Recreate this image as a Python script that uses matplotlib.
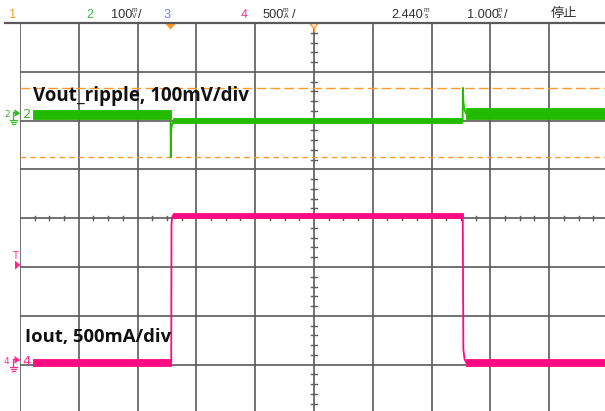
import matplotlib
matplotlib.use('Agg')
import matplotlib.pyplot as plt
from matplotlib.lines import Line2D
from matplotlib.patches import Polygon
from matplotlib.transforms import IdentityTransform

W, H = 605, 411

# ---------------- scope settings ----------------
time_per_div = 1.0      # ms/div
delay = 2.440           # ms (centre of screen relative to trigger)
ch2_scale = 100         # mV/div
ch4_scale = 500         # mA/div
ch2_offset_div = 2.15   # ground position of channel 2 (divisions from centre)
ch4_offset_div = -2.906 # ground position of channel 4
trig_level = 973        # mA

header_labels = ["1", "2", "100", "3", "4", "500", "2.440", "1.000", "停止"]

# ---------------- channel 2 : Vout ripple (mV) ----------------
ch2_band_t0 = [-2.34, 0.05, 5.02]
ch2_band_t1 = [0.0, 4.965, 7.44]
ch2_band_lo = [-11, -20, -11]
ch2_band_hi = [7, -10, 11]
ch2_edge_t = [[-0.01, 0.0, 0.004, 0.008, 0.02, 0.04, 0.06],
              [4.962, 4.968, 4.972, 4.98, 4.995, 5.02]]
ch2_edge_v = [[-2, -2, -90, -40, -26, -20, -15],
              [-15, -15, 52, 25, 10, 0]]
ch2_cursors = [52, -90]

# ---------------- channel 4 : Iout (mA) ----------------
ch4_band_t0 = [-2.34, 0.04, 5.03]
ch4_band_t1 = [0.0, 4.967, 7.44]
ch4_band_lo = [-59, 1452, -59]
ch4_band_hi = [7, 1506, 7]
ch4_edge_t = [[0.0, 0.012, 0.016, 0.025, 0.04],
              [4.965, 4.97, 4.98, 5.0, 5.03]]
ch4_edge_v = [[-26, -20, 1380, 1455, 1480],
              [1480, 1460, 110, 10, -26]]

GREEN = '#22bb00'
PINK = '#ff0a82'
ORANGE = '#ff9a2a'
GRID = '#5a5a5a'

fig = plt.figure(figsize=(W / 100, H / 100), dpi=100)
fig.patch.set_facecolor('white')

# axes rectangle in pixels (screen grid)
gx0, gx1 = 20.0, 608.0
gy0, gy1 = 23.0, 413.4
rect = [gx0 / W, (H - gy1) / H, (gx1 - gx0) / W, (gy1 - gy0) / H]

base = fig.add_axes(rect)
base.set_xlim(0, 10)
base.set_ylim(-4, 4)
base.axis('off')
for k in range(0, 11):
    base.axvline(k, color=GRID, lw=1.2, zorder=1)
for k in range(-4, 5):
    base.axhline(k, color=GRID, lw=1.2, zorder=1)
# minor ticks on centre lines
for k in range(40):
    if k % 4:
        base.plot([k / 4, k / 4], [-0.045, 0.045], color=GRID, lw=1.0, zorder=1)
for k in range(-20, 21):
    if k % 5:
        base.plot([4.95, 5.05], [k / 5, k / 5], color=GRID, lw=1.0, zorder=1)

xlim = (delay - 5 * time_per_div, delay + 5 * time_per_div)

ax2 = fig.add_axes(rect)
ax2.set_xlim(*xlim)
ax2.set_ylim((-4 - ch2_offset_div) * ch2_scale, (4 - ch2_offset_div) * ch2_scale)
ax2.axis('off')
ax2.patch.set_alpha(0)

ax4 = fig.add_axes(rect)
ax4.set_xlim(*xlim)
ax4.set_ylim((-4 - ch4_offset_div) * ch4_scale, (4 - ch4_offset_div) * ch4_scale)
ax4.axis('off')
ax4.patch.set_alpha(0)

# cursors
ax2.axhline(ch2_cursors[0], color=ORANGE, lw=1.0, ls=(0, (7, 3)), zorder=2)
ax2.axhline(ch2_cursors[1], color=ORANGE, lw=1.0, ls=(0, (4, 3)), zorder=2)

# traces
for t0, t1, lo, hi in zip(ch2_band_t0, ch2_band_t1, ch2_band_lo, ch2_band_hi):
    ax2.fill_between([t0, t1], [lo, lo], [hi, hi], color=GREEN, lw=0.6, zorder=3)
for tt, vv in zip(ch2_edge_t, ch2_edge_v):
    ax2.plot(tt, vv, color=GREEN, lw=1.3, zorder=3)
for t0, t1, lo, hi in zip(ch4_band_t0, ch4_band_t1, ch4_band_lo, ch4_band_hi):
    ax4.fill_between([t0, t1], [lo, lo], [hi, hi], color=PINK, lw=0.6, zorder=3)
for tt, vv in zip(ch4_edge_t, ch4_edge_v):
    ax4.plot(tt, vv, color=PINK, lw=1.3, zorder=3)

# ---------------- helpers in pixel coordinates (top-left origin) ----------------
ID = IdentityTransform()


def ptext(x, y, s, **kw):
    fig.text(x / W, 1 - y / H, s, va='baseline', ha='left', **kw)


def pline(xs, ys, **kw):
    fig.add_artist(Line2D(xs, [H - y for y in ys], transform=ID, **kw))


def ppoly(pts, **kw):
    fig.add_artist(Polygon([(x, H - y) for x, y in pts], closed=True, transform=ID, **kw))


def ypx(ax, v):
    return H - ax.transData.transform((0, v))[1]


def xpx(ax, t):
    return ax.transData.transform((t, 0))[0]


# header bar
pline([5, W], [gy0, gy0], color=GRID, lw=1.6)
hdr_font = ['Liberation Sans', 'DejaVu Sans']
hs = 9.2
us = 4.8
hy = 17.5
uy1, uy2 = 11.5, 17.5
dark = '#333333'
ptext(9.5, hy, header_labels[0], color='#f5a030', fontsize=hs, family=hdr_font)
ptext(86, hy, header_labels[1], color='#3fb83f', fontsize=hs, family=hdr_font)
ptext(110.5, hy, header_labels[2], color=dark, fontsize=hs, family=hdr_font)
ptext(131.5, uy1, 'm', color=dark, fontsize=us, family=hdr_font)
ptext(132, uy2, 'V', color=dark, fontsize=us, family=hdr_font)
ptext(138.5, hy, '/', color=dark, fontsize=hs, family=hdr_font)
ptext(163.5, hy, header_labels[3], color='#6f80ff', fontsize=hs, family=hdr_font)
ptext(241, hy, header_labels[4], color='#ff3399', fontsize=hs, family=hdr_font)
ptext(262.5, hy, header_labels[5], color=dark, fontsize=hs, family=hdr_font)
ptext(283, uy1, 'm', color=dark, fontsize=us, family=hdr_font)
ptext(283.5, uy2, 'A', color=dark, fontsize=us, family=hdr_font)
ptext(291.5, hy, '/', color=dark, fontsize=hs, family=hdr_font)
ptext(391.5, hy, header_labels[6], color=dark, fontsize=hs, family=hdr_font)
ptext(423.5, uy1, 'm', color=dark, fontsize=us, family=hdr_font)
ptext(424.5, uy2, 's', color=dark, fontsize=us, family=hdr_font)
ptext(466.5, hy, header_labels[7], color=dark, fontsize=hs, family=hdr_font)
ptext(497, uy1, 'm', color=dark, fontsize=us, family=hdr_font)
ptext(498, uy2, 's', color=dark, fontsize=us, family=hdr_font)
ptext(504.5, hy, '/', color=dark, fontsize=hs, family=hdr_font)
ptext(551, hy, header_labels[8], color=dark, fontsize=9.5,
      family=['Noto Sans CJK JP', 'DejaVu Sans'])

# trigger position marker (filled) and time reference marker
xt = xpx(ax2, 0.0)
ppoly([(xt - 5, 24), (xt + 5, 24), (xt, 29.5)], color=ORANGE, lw=0)
xc = xpx(ax2, delay)
ppoly([(xc - 4, 23.5), (xc + 4, 23.5), (xc, 28.5)], facecolor='white', edgecolor=ORANGE, lw=1.0)
pline([xc, xc], [28, 31], color=ORANGE, lw=1.0)


def ch_marker(y, num, color):
    ptext(4, y + 3.5, num, color=color, fontsize=6.5)
    pline([13, 13], [y - 1, y + 7], color=color, lw=0.9)
    pline([9.5, 16.5], [y + 7, y + 7], color=color, lw=0.9)
    pline([10.5, 15.5], [y + 9, y + 9], color=color, lw=0.9)
    pline([11.5, 14.5], [y + 11, y + 11], color=color, lw=0.9)
    pline([13, 15], [y - 1, y - 1], color=color, lw=0.9)
    ppoly([(14.5, y - 4), (14.5, y + 3.5), (20.5, y)], color=color, lw=0)
    ptext(22.5, y + 4.5, num, color=color, fontsize=9.5)


ch_marker(ypx(ax2, 0), '2', '#33bb22')
ch_marker(ypx(ax4, 0), '4', '#ff2a90')

# trigger level marker
ytl = ypx(ax4, trig_level)
ptext(12.5, ytl - 6.5, 'T', color='#ff2a90', fontsize=7)
ppoly([(15, ytl - 4.5), (15, ytl + 4.5), (20.5, ytl)], color='#ff2a90', lw=0)

# annotations
lab_font = ['Open Sans', 'DejaVu Sans']
ptext(33, 100.5, 'Vout_ripple, 100mV/div', fontsize=13.5, fontweight='bold',
      color='#111111', family=lab_font)
ptext(25, 341.5, 'Iout, 500mA/div', fontsize=13.3, fontweight='bold',
      color='#111111', family=lab_font)

fig.savefig('out.png', dpi=100)
